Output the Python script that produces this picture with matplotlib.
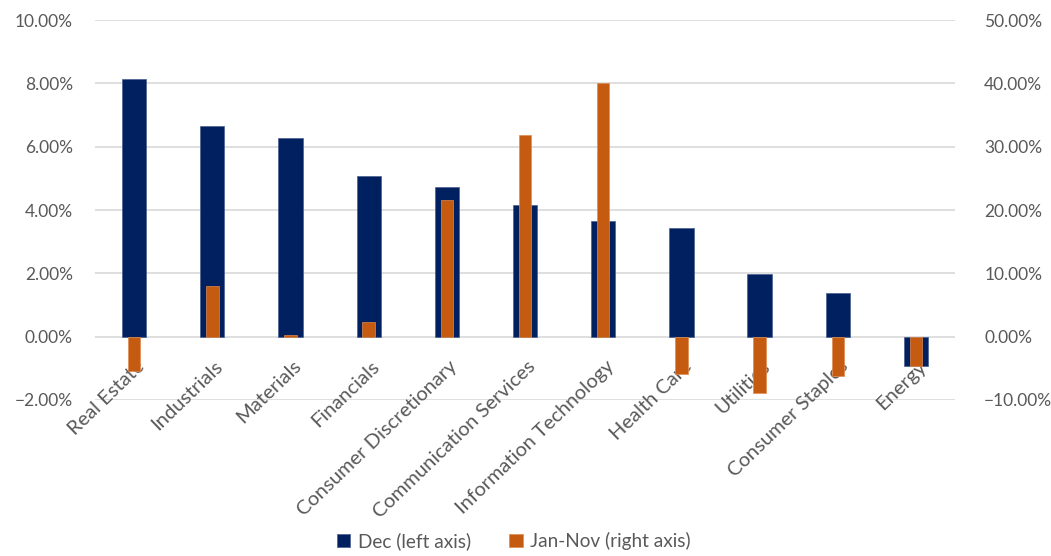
import numpy as np
import matplotlib.pyplot as plt
import matplotlib.transforms as mtransforms
from matplotlib.ticker import PercentFormatter

plt.rcParams['font.family'] = ['Lato', 'DejaVu Sans']

sectors = ["Real Estate", "Industrials", "Materials", "Financials",
           "Consumer Discretionary", "Communication Services",
           "Information Technology", "Health Care", "Utilities",
           "Consumer Staples", "Energy"]
dec = [8.14, 6.66, 6.27, 5.08, 4.74, 4.16, 3.65, 3.42, 1.97, 1.39, -0.94]
jan_nov = [-5.4, 8.0, 0.2, 2.3, 21.6, 31.8, 40.0, -5.9, -8.95, -6.2, -4.7]

navy = "#002060"
orange = "#C55A11"
grey = "#595959"

fig = plt.figure(figsize=(10.51, 5.56), dpi=100)
ax = fig.add_axes([0.0904, 0.2806, 0.8183, 0.6834])
ax2 = ax.twinx()

x = np.arange(len(sectors))
ax.bar(x, dec, width=0.31, color=navy, edgecolor="#4a5f8f", linewidth=0.5,
       label="Dec (left axis)", zorder=2)
ax2.bar(x, jan_nov, width=0.16, color=orange, edgecolor="#e08a50", linewidth=0.5,
        label="Jan-Nov (right axis)", zorder=2)

ax.set_xlim(-0.5, len(sectors) - 0.5)
ax.set_ylim(-2, 10)
ax2.set_ylim(-10, 50)
ax.set_yticks(np.arange(-2, 10.1, 2))
ax2.set_yticks(np.arange(-10, 50.1, 10))
ax.yaxis.set_major_formatter(PercentFormatter(decimals=2))
ax2.yaxis.set_major_formatter(PercentFormatter(decimals=2))

ax.grid(axis="y", color="#d9d9d9", linewidth=1.2, zorder=0)
ax.set_axisbelow(True)
for a in (ax, ax2):
    for s in a.spines.values():
        s.set_visible(False)
    a.tick_params(axis="both", length=0, labelsize=12.5, labelcolor=grey)
ax.tick_params(axis="y", pad=16)
ax2.tick_params(axis="y", pad=21)

# category labels sit at the zero line (like Excel) and on top of the bars
ax.tick_params(axis="x", labelbottom=False)
ax2.xaxis.set_visible(True)
ax2.spines["bottom"].set_position(("data", 0))
ax2.set_xticks(x)
ax2.set_xticklabels(sectors, rotation=44, ha="right", rotation_mode="anchor",
                    fontsize=14.5, color=grey)
ax2.tick_params(axis="x", pad=7)
shift = mtransforms.ScaledTranslation(0.02, -0.11, fig.dpi_scale_trans)
for lbl in ax2.get_xticklabels():
    lbl.set_transform(lbl.get_transform() + shift)

h1, l1 = ax.get_legend_handles_labels()
h2, l2 = ax2.get_legend_handles_labels()
fig.legend(h1 + h2, l1 + l2, loc="lower center", bbox_to_anchor=(0.489, -0.02),
           ncol=2, frameon=False, fontsize=13.7, handlelength=0.7,
           handleheight=0.7, handletextpad=0.4, columnspacing=2.0,
           labelcolor=grey)

fig.savefig("out.png", dpi=100)
